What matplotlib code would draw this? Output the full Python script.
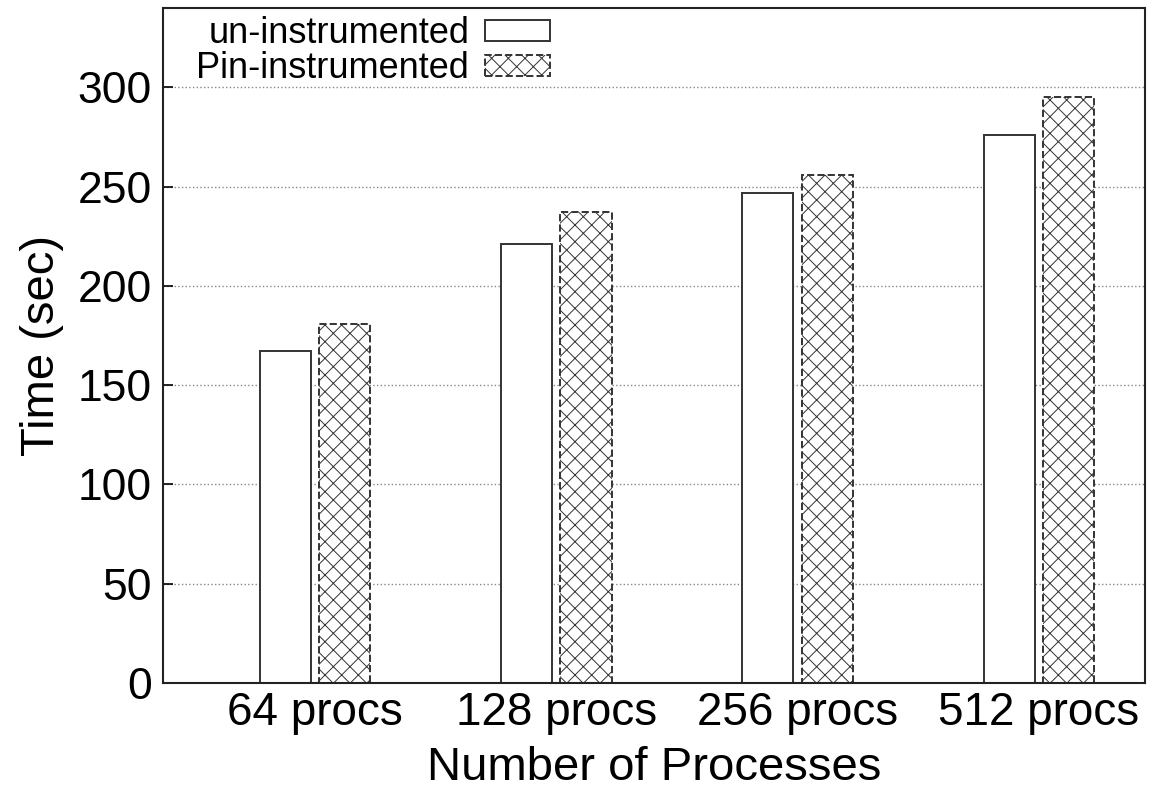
import numpy as np
import matplotlib
matplotlib.use("Agg")
import matplotlib.pyplot as plt

plt.rcParams['font.family'] = ['Liberation Sans', 'DejaVu Sans']
plt.rcParams['hatch.linewidth'] = 0.7
plt.rcParams['hatch.color'] = '#555555'

groups = ['64 procs', '128 procs', '256 procs', '512 procs']
uninstrumented = [167, 221, 247, 276]
pin_instrumented = [181, 237, 256, 295]

fig = plt.figure(figsize=(11.51, 7.92), dpi=100)
ax = fig.add_axes([0.1416, 0.1376, 0.8532, 0.8523])

x = np.arange(len(groups))
w = 0.212
ax.bar(x - 0.123, uninstrumented, w, facecolor='white', edgecolor='#333333',
       linewidth=1.4, label='un-instrumented', zorder=2)
ax.bar(x + 0.123, pin_instrumented, w, facecolor='white', edgecolor='#333333',
       linewidth=1.4, linestyle='--', hatch='xx', label='Pin-instrumented', zorder=2)

ax.set_xlim(-0.63, 3.44)
ax.set_ylim(0, 340)
ax.set_yticks(range(0, 301, 50))
ax.set_xticks(x)
ax.set_xticklabels(groups, fontsize=33)
ax.tick_params(axis='y', labelsize=32, direction='in', length=7, width=1.2, pad=8)
ax.tick_params(axis='x', length=0, pad=6)
ax.yaxis.grid(True, linestyle=':', color='#888888', linewidth=1.0)
ax.set_axisbelow(True)
for s in ax.spines.values():
    s.set_linewidth(1.5)
    s.set_color('#222222')

ax.set_ylabel('Time (sec)', fontsize=34, labelpad=10)
ax.set_xlabel('Number of Processes', fontsize=34, labelpad=8)

ax.legend(loc='upper left', bbox_to_anchor=(0.012, 1.02), frameon=False,
          markerfirst=False, fontsize=26, handlelength=1.8, handleheight=0.5,
          handletextpad=0.45, labelspacing=0.0, borderaxespad=0.2)

fig.savefig('out.png', dpi=100)
